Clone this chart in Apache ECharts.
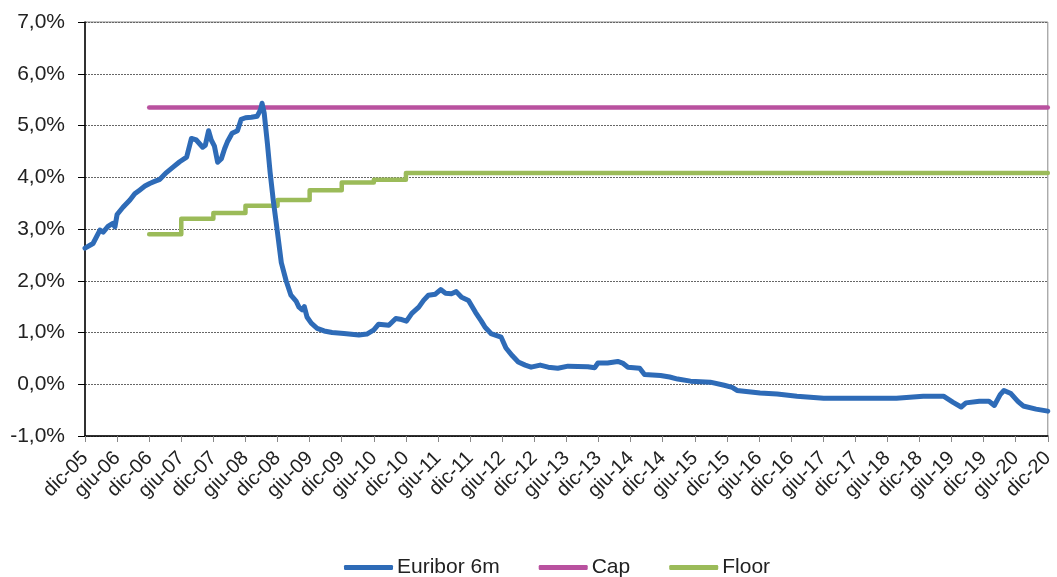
<!DOCTYPE html>
<html>
<head>
<meta charset="utf-8">
<script src="https://cdn.jsdelivr.net/npm/echarts@6/dist/echarts.min.js"></script>
<style>
  html, body { margin: 0; padding: 0; background: #fff; }
  #chart { width: 1057px; height: 577px; }
</style>
</head>
<body>
<div id="chart"></div>
<script>
// etichette asse x (ogni 6 mesi, da dic-05)
const tickLabels = ['dic-05','giu-06','dic-06','giu-07','dic-07','giu-08','dic-08','giu-09','dic-09','giu-10',
  'dic-10','giu-11','dic-11','giu-12','dic-12','giu-13','dic-13','giu-14','dic-14','giu-15',
  'dic-15','giu-16','dic-16','giu-17','dic-17','giu-18','dic-18','giu-19','dic-19','giu-20','dic-20'];

// Euribor 6m: mesi da dic-05 e valori in %
const euriborMonths = [0,1.5,2.8,3.4,4.3,5.2,5.6,6.0,7.1,8.4,9.3,10.2,11.2,12.1,13.0,14.0,15.1,16.4,17.7,19.0,
  19.9,20.8,22.0,22.5,23.1,23.6,24.2,24.8,25.5,26.1,26.6,27.5,28.5,29.2,30.0,31.1,32.2,32.8,33.1,33.5,
  34.1,34.6,35.2,35.9,36.7,37.6,38.5,39.5,40.0,40.6,41.0,41.5,42.3,43.4,44.7,46.2,48.4,51.2,52.7,54.0,
  54.9,56.8,58.1,59.2,60.1,61.1,62.4,63.3,64.2,65.5,66.5,67.4,68.5,69.4,70.4,71.7,73.0,74.1,74.8,75.9,
  77.8,78.7,79.9,81.0,82.3,83.4,85.1,86.6,88.4,90.3,94.0,95.3,95.9,97.7,99.6,100.5,101.5,103.7,104.6,107.6,
  109.3,110.8,113.2,116.9,119.5,121.0,121.9,126.2,129.4,133.1,138.1,145.6,151.7,156.7,160.5,162.3,163.8,164.7,167.2,169.0,
  170.0,171.1,171.8,173.1,174.4,175.4,177.8,180.0];
const euriborValues = [2.63,2.72,2.98,2.94,3.05,3.11,3.04,3.28,3.42,3.56,3.68,3.75,3.83,3.88,3.92,3.96,4.08,4.19,4.30,4.39,
  4.75,4.72,4.58,4.62,4.90,4.72,4.60,4.29,4.36,4.55,4.68,4.85,4.90,5.12,5.15,5.16,5.18,5.30,5.43,5.24,
  4.65,4.10,3.55,3.00,2.35,2.00,1.72,1.60,1.49,1.44,1.50,1.30,1.18,1.08,1.03,1.00,0.98,0.95,0.97,1.05,
  1.16,1.14,1.27,1.25,1.22,1.37,1.49,1.62,1.72,1.74,1.83,1.76,1.75,1.79,1.68,1.62,1.39,1.22,1.10,0.98,
  0.91,0.70,0.55,0.43,0.37,0.33,0.37,0.33,0.31,0.35,0.34,0.32,0.41,0.41,0.44,0.41,0.33,0.31,0.19,0.17,
  0.14,0.10,0.06,0.04,-0.02,-0.06,-0.12,-0.17,-0.19,-0.23,-0.27,-0.27,-0.27,-0.23,-0.23,-0.35,-0.44,-0.36,-0.33,-0.33,
  -0.41,-0.20,-0.12,-0.18,-0.33,-0.42,-0.48,-0.52];

// Cap
const capMonths = [12, 180];
const capValues = [5.35, 5.35];

// Floor (a gradini)
const floorMonths = [12, 18, 24, 30, 36, 42, 48, 54, 60, 180];
const floorValues = [2.90, 3.20, 3.31, 3.45, 3.56, 3.75, 3.90, 3.95, 4.08, 4.08];

const zip = (xs, ys) => xs.map((x, i) => [x, ys[i]]);

const FONT = "'Liberation Sans', Arial, sans-serif";
const myChart = echarts.init(document.getElementById('chart'));
myChart.setOption({
  animation: false,
  textStyle: { fontFamily: FONT },
  grid: {
    left: 85, right: 5, top: 22, bottom: 141,
    show: true, borderColor: '#888', borderWidth: 1
  },
  legend: {
    top: 552,
    left: 339,
    icon: 'roundRect',
    itemWidth: 49,
    itemHeight: 5,
    itemGap: 39,
    textStyle: { fontSize: 21, color: '#222', fontFamily: FONT, padding: [0, 0, 0, -1] },
    data: ['Euribor 6m', 'Cap', 'Floor']
  },
  xAxis: {
    type: 'value',
    min: 0, max: 180, interval: 6,
    axisLine: { show: true, onZero: false, lineStyle: { color: '#000', width: 1.5 } },
    axisTick: { show: true, length: 6, lineStyle: { color: '#888' } },
    splitLine: { show: false },
    axisLabel: {
      rotate: 45,
      fontSize: 20,
      color: '#222',
      margin: 19,
      showMinLabel: true,
      showMaxLabel: true,
      formatter: v => tickLabels[Math.round(v / 6)]
    }
  },
  yAxis: {
    type: 'value',
    min: -1, max: 7, interval: 1,
    axisLine: { show: true, onZero: false, lineStyle: { color: '#000', width: 1.5 } },
    axisTick: { show: true, length: 7, lineStyle: { color: '#000' } },
    splitLine: { show: true, lineStyle: { color: '#666', type: [2, 1], width: 1 } },
    axisLabel: {
      fontSize: 21,
      color: '#222',
      margin: 20,
      formatter: v => v.toFixed(1).replace('.', ',') + '%'
    }
  },
  series: [
    {
      name: 'Euribor 6m', type: 'line', data: zip(euriborMonths, euriborValues),
      symbol: 'none', color: '#2e6bb7',
      lineStyle: { width: 5, color: '#2e6bb7', cap: 'round', join: 'round' }, z: 3
    },
    {
      name: 'Cap', type: 'line', data: zip(capMonths, capValues),
      symbol: 'none', color: '#b9519f',
      lineStyle: { width: 4.5, color: '#b9519f', cap: 'round' }, z: 2
    },
    {
      name: 'Floor', type: 'line', step: 'end', data: zip(floorMonths, floorValues),
      symbol: 'none', color: '#9bbb59',
      lineStyle: { width: 4.5, color: '#9bbb59', cap: 'round', join: 'round' }, z: 2
    }
  ]
});
window.addEventListener('resize', function () { myChart.resize(); });
</script>
</body>
</html>
